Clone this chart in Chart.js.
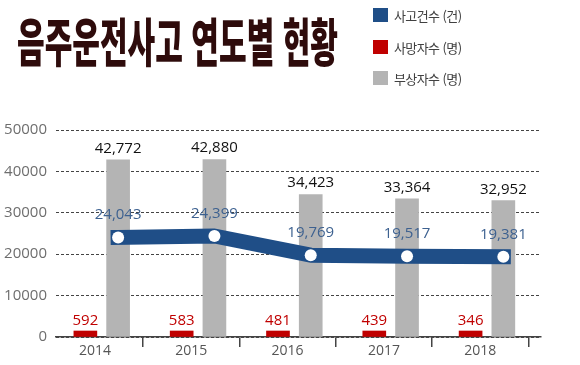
<!DOCTYPE html>
<html lang="ko">
<head>
<meta charset="utf-8">
<script src="https://cdn.jsdelivr.net/npm/chart.js@4.4.1/dist/chart.umd.min.js"></script>
<style>
  html, body { margin: 0; padding: 0; background: #fff; }
  #wrap { position: relative; width: 580px; height: 365px; overflow: hidden; }
  #chart { position: absolute; left: 0; top: 0; }
  #title {
    position: absolute; left: 17px; top: 14px;
    font: 900 52px "Noto Sans CJK KR", sans-serif; line-height: 1;
    color: #2e0b0b; white-space: nowrap;
    transform: scaleX(0.578); transform-origin: 0 0;
  }
  .lg { position: absolute; left: 373px; height: 16px; display: flex; align-items: center;
        font: 13px "Noto Sans CJK KR", sans-serif; color: #404040; letter-spacing: -0.6px; white-space: nowrap; }
  .lg i { display: inline-block; width: 15px; height: 14px; margin-right: 6px; }
</style>
</head>
<body>
<div id="wrap">
  <canvas id="chart" width="580" height="365"></canvas>
  <div id="title">음주운전사고 연도별 현황</div>
  <div id="legend"></div>
</div>
<script>
// ─── データ ─────────────────────────────
const years     = ['2014', '2015', '2016', '2017', '2018'];
const accidents = [24043, 24399, 19769, 19517, 19381];   // 사고건수 (건)
const deaths    = [592, 583, 481, 439, 346];             // 사망자수 (명)
const injured   = [42772, 42880, 34423, 33364, 32952];   // 부상자수 (명)
const yTicks    = [0, 10000, 20000, 30000, 40000, 50000];

const seriesNames  = ['사고건수 (건)', '사망자수 (명)', '부상자수 (명)'];
const seriesColors = ['#1f4e87', '#c00000', '#b4b4b4'];

// x range of the visible year axis; bars/line sit on shifted copies of it
const X_MIN = -0.405, X_MAX = 4.631;
const GRAY_SHIFT = 0.24;   // 부상자수 bars + line, right of the year label
const RED_SHIFT  = -0.10;  // 사망자수 bars, left of the year label

const pts = arr => arr.map((v, i) => ({ x: i, y: v }));

// ─── legend (html) ─────────────────────
const legendTops = [7, 39, 70];
document.getElementById('legend').innerHTML = seriesNames.map((n, i) =>
  `<div class="lg" style="top:${legendTops[i]}px"><i style="background:${seriesColors[i]}"></i>${n}</div>`
).join('');

// ─── value labels ──────────────────────
const valueLabels = {
  id: 'valueLabels',
  afterDatasetsDraw(chart) {
    const ctx = chart.ctx;
    chart.data.datasets.forEach((ds, di) => {
      const meta = chart.getDatasetMeta(di);
      ctx.save();
      ctx.font = '15px "Open Sans"';
      ctx.fillStyle = ds.labelColor;
      ctx.textAlign = 'center';
      ctx.textBaseline = 'alphabetic';
      meta.data.forEach((el, i) => {
        ctx.fillText(ds.data[i].y.toLocaleString('en-US'), el.x, el.y - ds.labelGap);
      });
      ctx.restore();
    });
  }
};

new Chart(document.getElementById('chart'), {
  type: 'bar',
  data: {
    datasets: [
      {
        type: 'line',
        label: seriesNames[0],
        data: pts(accidents),
        xAxisID: 'xGray',
        order: 0,
        borderColor: seriesColors[0],
        borderWidth: 15,
        borderCapStyle: 'square',
        borderJoinStyle: 'round',
        tension: 0,
        pointRadius: 6,
        pointBorderWidth: 0,
        pointBackgroundColor: '#fff',
        labelColor: '#3d6190',
        labelGap: 18
      },
      {
        label: seriesNames[1],
        data: pts(deaths),
        xAxisID: 'xRed',
        order: 1,
        backgroundColor: seriesColors[1],
        barThickness: 23,
        minBarLength: 6,
        grouped: false,
        labelColor: '#c00000',
        labelGap: 6
      },
      {
        label: seriesNames[2],
        data: pts(injured),
        xAxisID: 'xGray',
        order: 2,
        backgroundColor: seriesColors[2],
        barThickness: 23,
        grouped: false,
        labelColor: '#111',
        labelGap: 7
      }
    ]
  },
  options: {
    responsive: false,
    animation: false,
    layout: { padding: { top: 130, right: 39, left: 4, bottom: 4 } },
    plugins: { legend: { display: false }, tooltip: { enabled: false } },
    scales: {
      x: {
        type: 'linear',
        min: X_MIN, max: X_MAX,
        offset: false,
        afterBuildTicks: s => {
          s.ticks = [];
          years.forEach((_, i) => { s.ticks.push({ value: i }, { value: i + 0.5 }); });
        },
        afterFit: s => { s.height = 24; },
        ticks: {
          autoSkip: false, maxRotation: 0, padding: -4,
          color: '#555', font: { family: 'Open Sans', size: 14 },
          callback: v => Number.isInteger(v) ? years[v] : ''
        },
        grid: {
          offset: false, drawOnChartArea: false, tickLength: 10, lineWidth: 1.5,
          color: c => (c.tick && Number.isInteger(c.tick.value)) ? 'rgba(0,0,0,0)' : '#444'
        },
        border: { display: true, color: '#444', width: 1.5 }
      },
      xGray: {
        type: 'linear', display: false, offset: false, grid: { offset: false },
        min: X_MIN - GRAY_SHIFT, max: X_MAX - GRAY_SHIFT
      },
      xRed: {
        type: 'linear', display: false, offset: false, grid: { offset: false },
        min: X_MIN - RED_SHIFT, max: X_MAX - RED_SHIFT
      },
      y: {
        min: 0, max: 50000,
        afterBuildTicks: s => { s.ticks = yTicks.map(v => ({ value: v })); },
        afterFit: s => { s.width = 52; },
        ticks: {
          padding: 9, color: '#6e6e6e', font: { family: 'Open Sans', size: 15 },
          callback: v => String(v)
        },
        grid: { drawTicks: false, color: '#444', lineWidth: 1 },
        border: { display: false, dash: [3, 2] }
      }
    }
  },
  plugins: [valueLabels]
});
</script>
</body>
</html>
